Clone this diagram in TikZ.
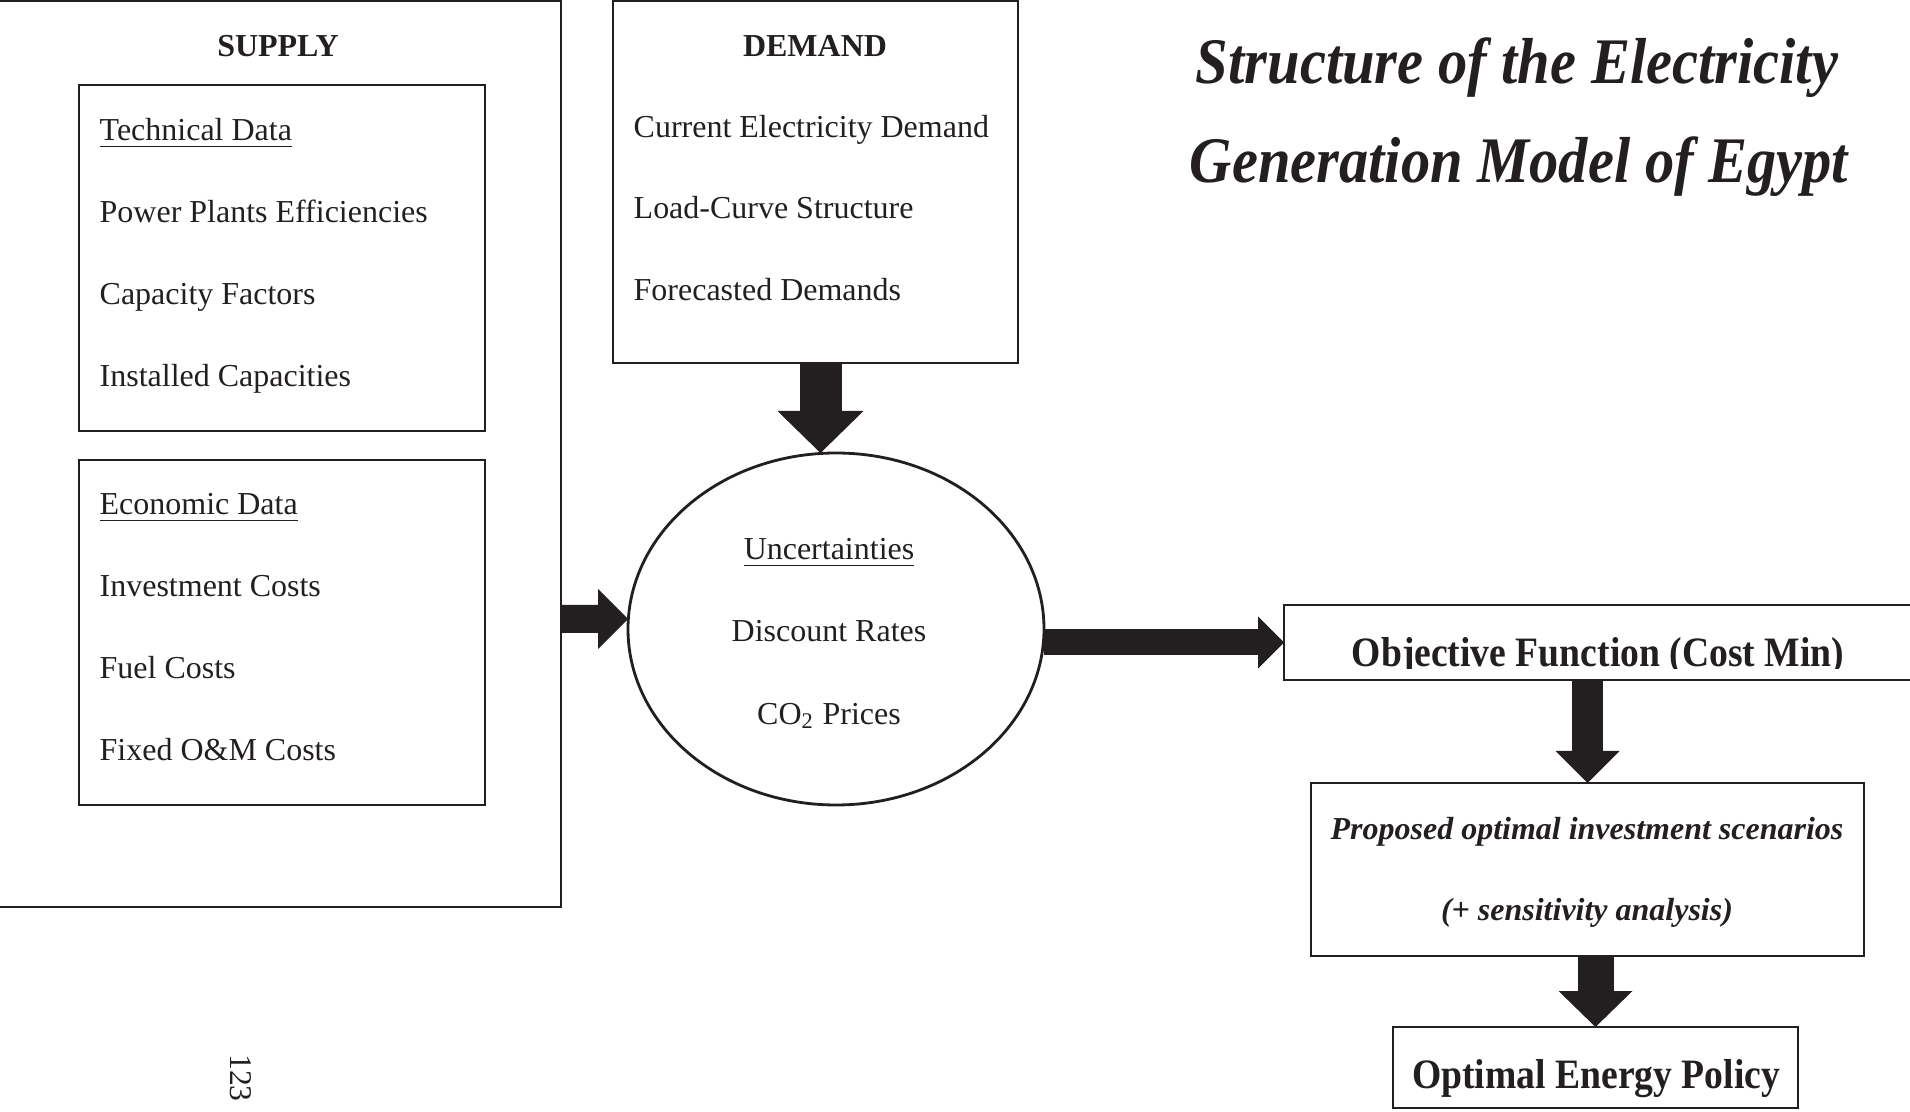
\documentclass[tikz,border=0pt]{standalone}
\usepackage{fontspec}
\setmainfont{Liberation Serif}
\newfontfamily\narrowserif[FakeStretch=0.9]{Liberation Serif}
\usepackage{tikz}
\usetikzlibrary{arrows.meta,positioning,calc,shapes.geometric}
\definecolor{ink}{HTML}{231F20}

\tikzset{
  frame/.style={draw=ink, line width=0.6pt, inner sep=0pt, outer sep=0pt},
  item/.style={anchor=base west, inner sep=0pt, text=ink, font=\fontsize{9.1}{11}\selectfont},
  mid/.style={anchor=base, inner sep=0pt, text=ink, font=\fontsize{9.1}{11}\selectfont},
  bigarrow/.style n args={3}{draw=ink, line width=#1, -{Triangle[width=#2, length=#3, line width=0pt]}}
}

\begin{document}
\begin{tikzpicture}[x=1cm,y=1cm]
  \useasboundingbox (0,0) rectangle (19.1,-11.12);

  % supply side
  \node[frame, anchor=north east, minimum width=6cm, minimum height=9.06cm] (supply) at (5.61,-0.01) {};
  \node[mid, font=\fontsize{9.1}{11}\selectfont\bfseries] (supplylbl) at (2.78,-0.57) {SUPPLY};

  \node[frame, anchor=north west, minimum width=4.06cm, minimum height=3.46cm] (tech) at (0.79,-0.85) {};
  \node[item] (tech0) at (0.99,-1.41) {\underline{Technical Data}};
  \node[item] (tech1) at (0.99,-2.23) {Power Plants Efficiencies};
  \node[item] (tech2) at (0.99,-3.05) {Capacity Factors};
  \node[item] (tech3) at (0.99,-3.87) {Installed Capacities};

  \node[frame, anchor=north west, minimum width=4.06cm, minimum height=3.45cm] (econ) at (0.79,-4.60) {};
  \node[item] (econ0) at (0.99,-5.15) {\underline{Economic Data}};
  \node[item] (econ1) at (0.99,-5.97) {Investment Costs};
  \node[item] (econ2) at (0.99,-6.79) {Fuel Costs};
  \node[item] (econ3) at (0.99,-7.61) {Fixed O\&M Costs};

  % demand side
  \node[frame, anchor=north west, minimum width=4.05cm, minimum height=3.62cm] (demand) at (6.13,-0.01) {};
  \node[mid, font=\fontsize{9.1}{11}\selectfont\bfseries] (demandlbl) at (8.15,-0.57) {DEMAND};
  \node[item] (dem1) at (6.33,-1.38) {Current Electricity Demand};
  \node[item] (dem2) at (6.33,-2.19) {Load-Curve Structure};
  \node[item] (dem3) at (6.33,-3.01) {Forecasted Demands};

  % uncertainties
  \node[draw=ink, line width=0.8pt, ellipse, minimum width=4.16cm, minimum height=3.52cm, outer sep=0pt] (unc) at (8.36,-6.29) {};
  \node[mid] (unc0) at (8.29,-5.60) {\underline{Uncertainties}};
  \node[mid] (unc1) at (8.29,-6.42) {Discount Rates};
  \node[mid] (unc2) at (8.29,-7.25) {CO\textsubscript{2} Prices};

  % title
  \node[anchor=base, inner sep=0pt, text=ink, font=\narrowserif\fontsize{18.5}{22}\selectfont\bfseries\itshape] (title1) at (15.17,-0.84) {Structure of the Electricity};
  \node[anchor=base, inner sep=0pt, text=ink, font=\narrowserif\fontsize{18.5}{22}\selectfont\bfseries\itshape] (title2) at (15.19,-1.83) {Generation Model of Egypt};

  % model and results
  \node[frame, anchor=north west, minimum width=7cm, minimum height=0.75cm] (obj) at (12.84,-6.05) {};
  \begin{scope}
    \clip (obj.north west) rectangle ([yshift=0.11cm]obj.south east);
    \node[anchor=base, inner sep=0pt, text=ink, font=\narrowserif\fontsize{11.9}{14}\selectfont\bfseries] (objtext) at (15.98,-6.67) {Objective Function (Cost Min)};
  \end{scope}

  \node[frame, anchor=north west, minimum width=5.53cm, minimum height=1.73cm] (prop) at (13.11,-7.83) {};
  \node[mid, font=\fontsize{9.1}{11}\selectfont\bfseries\itshape] (prop1) at (15.87,-8.40) {Proposed optimal investment scenarios};
  \node[mid, font=\fontsize{9.1}{11}\selectfont\bfseries\itshape] (prop2) at (15.87,-9.21) {(+ sensitivity analysis)};

  \node[frame, anchor=north west, minimum width=4.05cm, minimum height=0.81cm] (pol) at (13.93,-10.27) {};
  \node[anchor=base, inner sep=0pt, text=ink, font=\narrowserif\fontsize{11.9}{14}\selectfont\bfseries] (poltext) at (15.96,-10.88) {Optimal Energy Policy};

  % page number
  \node[inner sep=0pt, text=ink, rotate=-90, font=\fontsize{9}{11}\selectfont] (pageno) at (2.41,-10.78) {123};

  % block arrows
  \draw[bigarrow={0.42cm}{0.86cm}{0.42cm}] ([xshift=0.05cm]demand.south) -- ([xshift=0.05cm]demand.south |- unc.north);
  \draw[bigarrow={0.28cm}{0.60cm}{0.30cm}] (supply.east |- 0,-6.19) -- ([yshift=0.1cm]unc.west);
  \draw[bigarrow={0.26cm}{0.52cm}{0.26cm}] (unc.east |- obj.west) -- (obj.west);
  \draw[bigarrow={0.31cm}{0.64cm}{0.32cm}] (prop.north |- obj.south) -- (prop.north);
  \draw[bigarrow={0.36cm}{0.74cm}{0.36cm}] (pol.north |- prop.south) -- (pol.north);
\end{tikzpicture}
\end{document}
